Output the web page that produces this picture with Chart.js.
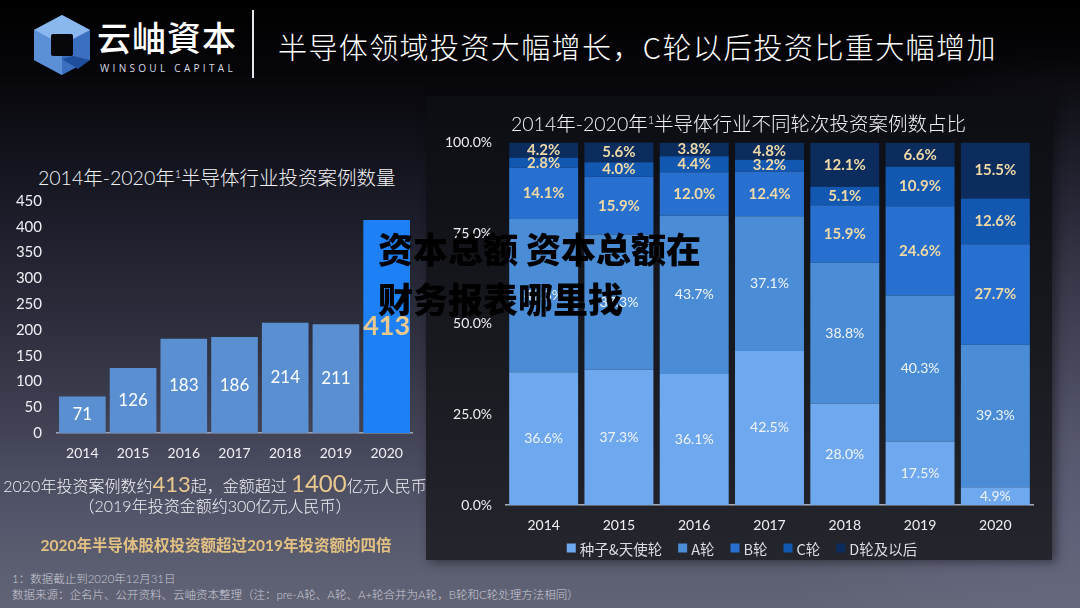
<!DOCTYPE html>
<html lang="zh-CN">
<head>
<meta charset="utf-8">
<script src="https://cdn.jsdelivr.net/npm/chart.js@4.4.1/dist/chart.umd.min.js"></script>
<style>
    html, body { margin: 0; padding: 0; }
    body {
        width: 1080px; height: 608px; overflow: hidden; position: relative;
        background:
            radial-gradient(ellipse 300px 420px at 100% 75%, rgba(120, 120, 150, 0.35), rgba(0, 0, 0, 0)),
            linear-gradient(180deg, #000 0%, #06060a 12%, #1a1b27 34%, #343545 60%, #53556a 85%, #626476 100%);
        font-family: "Lato", "Noto Sans CJK SC", sans-serif;
        color: #fff;
    }
    .abs { position: absolute; white-space: nowrap; }
    .brand { left: 97px; top: 12px; font-size: 34px; font-weight: 500; letter-spacing: 1px; }
    .brand-en { left: 100px; top: 61px; font-size: 10px; letter-spacing: 3.3px; color: #d8dae4; font-family: "Open Sans", sans-serif; }
    .sep { left: 252px; top: 10px; width: 2px; height: 68px; background: #e6e6ec; }
    .headline { left: 278px; top: 25px; font-size: 29px; font-weight: 300; letter-spacing: 1.4px; font-family: "Noto Sans CJK SC", sans-serif; }
    .chart-title { font-size: 19.5px; font-weight: 300; color: #f2f2f6; }
    .panel {
        left: 426px; top: 96px; width: 626px; height: 464px;
        background: linear-gradient(180deg, #0c0d12 0%, #16171d 45%, #25262d 100%);
        box-shadow: 4px 2px 10px rgba(0, 0, 0, 0.45);
    }
    .note { left: 0; width: 430px; text-align: center; font-size: 16px; color: #f0f0f4; font-weight: 300; }
    .gold { color: #e9c98e; font-weight: 400; }
    .note-gold { left: 0; width: 432px; top: 533px; text-align: center; font-size: 15.5px; font-weight: 700; color: #e3c182; }
    .foot { left: 12px; font-size: 11.5px; color: #c9cad4; font-weight: 300; }
    .overlay { left: 378px; font-size: 35px; font-weight: 900; color: #000; font-family: "Noto Sans CJK SC", sans-serif; z-index: 5; }
</style>
</head>
<body>

<svg class="abs" style="left:32px; top:14px" width="60" height="64" viewBox="0 0 60 64">
    <polygon points="30,1 58,16 58,46 30,61 2,46 2,16" fill="#3b6fbf"/>
    <polygon points="30,1 58,16 30,31 2,16" fill="#8ab8ee"/>
    <polygon points="2,16 30,31 30,61 2,46" fill="#5b8fd6"/>
    <rect x="19" y="20" width="22" height="22" rx="2" fill="#07070b"/>
    <polygon points="41,42 58,46 46,55 30,45" fill="#1f4f9c"/>
</svg>
<div class="abs brand">云岫資本</div>
<div class="abs brand-en">WINSOUL CAPITAL</div>
<div class="abs sep"></div>
<div class="abs headline">半导体领域投资大幅增长，C轮以后投资比重大幅增加</div>

<div class="abs chart-title" style="left:38px; top:162px;">2014年-2020年<sup style="font-size:11px">1</sup>半导体行业投资案例数量</div>
<div class="abs" style="left:0; top:177px; width:425px; height:293px;"><canvas id="countChart"></canvas></div>

<div class="abs note" style="top:468px;">2020年投资案例数约<span class="gold" style="font-size:22px">413</span>起，金额超过 <span class="gold" style="font-size:24px">1400</span>亿元人民币</div>
<div class="abs note" style="top:493px;">（2019年投资金额约300亿元人民币）</div>
<div class="abs note-gold">2020年半导体股权投资额超过2019年投资额的四倍</div>
<div class="abs foot" style="top:570px;">1：数据截止到2020年12月31日</div>
<div class="abs foot" style="top:586px;">数据来源：企名片、公开资料、云岫资本整理（注：pre-A轮、A轮、A+轮合并为A轮，B轮和C轮处理方法相同）</div>

<div class="abs panel"></div>
<div class="abs chart-title" style="left:511px; top:108px;">2014年-2020年<sup style="font-size:11px">1</sup>半导体行业不同轮次投资案例数占比</div>
<div class="abs" style="left:430px; top:120px; width:618px; height:440px;"><canvas id="roundChart"></canvas></div>

<div class="abs overlay" style="top:222px;">资本总额 资本总额在</div>
<div class="abs overlay" style="top:272px;">财务报表哪里找</div>

<script>
const years = ["2014", "2015", "2016", "2017", "2018", "2019", "2020"];
const caseCounts = [71, 126, 183, 186, 214, 211, 413];

const roundNames = ["种子&天使轮", "A轮", "B轮", "C轮", "D轮及以后"];
const seedShare = [36.6, 37.3, 36.1, 42.5, 28.0, 17.5, 4.9];
const aShare = [42.3, 37.3, 43.7, 37.1, 38.8, 40.3, 39.3];
const bShare = [14.1, 15.9, 12.0, 12.4, 15.9, 24.6, 27.7];
const cShare = [2.8, 4.0, 4.4, 3.2, 5.1, 10.9, 12.6];
const dShare = [4.2, 5.6, 3.8, 4.8, 12.1, 6.6, 15.5];

const roundColors = ["#6ea8ee", "#4a8dd6", "#2770d0", "#1257b0", "#0b2c5c"];

// writes the value in the middle of each bar segment
const barLabels = {
    id: "barLabels",
    afterDatasetsDraw(chart, args, opts) {
        const ctx = chart.ctx;
        chart.data.datasets.forEach((ds, i) => {
            const meta = chart.getDatasetMeta(i);
            meta.data.forEach((bar, j) => {
                const st = opts.style(i, j);
                const p = bar.getProps(["x", "y", "base"], true);
                ctx.save();
                ctx.font = st.font;
                ctx.fillStyle = st.color;
                ctx.textAlign = "center";
                ctx.textBaseline = "middle";
                ctx.fillText(opts.format(ds.data[j]), p.x, (p.y + p.base) / 2);
                ctx.restore();
            });
        });
    },
};

// simple legend row, squares + names, centred under the plot
const rowLegend = {
    id: "rowLegend",
    afterDraw(chart, args, opts) {
        const ctx = chart.ctx;
        ctx.save();
        ctx.font = opts.font;
        ctx.textBaseline = "middle";
        const items = chart.data.datasets.map((ds) => ({
            text: ds.label, color: ds.backgroundColor, w: ctx.measureText(ds.label).width,
        }));
        const total = items.reduce((s, it) => s + opts.box + 4 + it.w, 0) + opts.gap * (items.length - 1);
        let x = opts.cx - total / 2;
        items.forEach((it) => {
            ctx.fillStyle = it.color;
            ctx.fillRect(x, opts.y - opts.box / 2, opts.box, opts.box);
            x += opts.box + 4;
            ctx.fillStyle = opts.color;
            ctx.fillText(it.text, x, opts.y + 1);
            x += it.w + opts.gap;
        });
        ctx.restore();
    },
};

Chart.defaults.font.family = '"Lato", "Noto Sans CJK SC", sans-serif';
Chart.defaults.animation = false;

function renderCountChart() {
    const ctx = document.getElementById("countChart").getContext("2d");
    new Chart(ctx, {
        type: "bar",
        data: {
            labels: years,
            datasets: [{
                data: caseCounts,
                backgroundColor: years.map((y) => (y === "2020" ? "#1e80f5" : "#5a8fd2")),
                categoryPercentage: 1,
                barPercentage: 0.92,
            }],
        },
        options: {
            responsive: true,
            maintainAspectRatio: false,
            layout: { padding: { top: 0, right: 13, left: 0, bottom: 0 } },
            plugins: {
                legend: { display: false },
                tooltip: { enabled: false },
                barLabels: {
                    format: (v) => String(v),
                    style: (i, j) => (j === 6
                        ? { font: "bold 27px Lato, sans-serif", color: "#e9c98e" }
                        : { font: "17px Lato, sans-serif", color: "#ffffff" }),
                },
            },
            scales: {
                x: {
                    grid: { display: false, drawTicks: false },
                    border: { display: true, color: "#9ea3b4", width: 1.5 },
                    ticks: { color: "#eeeef3", font: { size: 14 }, padding: 12 },
                    afterFit: (s) => { s.height = 37; },
                },
                y: {
                    min: 0,
                    max: 450,
                    grid: { display: false, drawTicks: false },
                    border: { display: false },
                    ticks: { stepSize: 50, color: "#eeeef3", font: { size: 15 }, padding: 15 },
                    afterFit: (s) => { s.width = 57; },
                },
            },
        },
        plugins: [barLabels],
    });
}

function renderRoundChart() {
    const ctx = document.getElementById("roundChart").getContext("2d");
    const shares = [seedShare, aShare, bShare, cShare, dShare];
    new Chart(ctx, {
        type: "bar",
        data: {
            labels: years,
            datasets: roundNames.map((name, i) => ({
                label: name,
                data: shares[i],
                backgroundColor: roundColors[i],
                categoryPercentage: 1,
                barPercentage: 0.916,
            })),
        },
        options: {
            responsive: true,
            maintainAspectRatio: false,
            layout: { padding: { top: 0, right: 15, left: 0, bottom: 0 } },
            plugins: {
                legend: { display: false },
                tooltip: { enabled: false },
                barLabels: {
                    format: (v) => v.toFixed(1) + "%",
                    style: (i) => (i < 2
                        ? { font: "14px Lato, sans-serif", color: "#f2f4fa" }
                        : { font: "bold 15px Lato, sans-serif", color: "#efd9a6" }),
                },
                rowLegend: { cx: 312, y: 428, box: 9, gap: 16, font: '14.5px "Noto Sans CJK SC", sans-serif', color: "#dcdce4" },
            },
            scales: {
                x: {
                    stacked: true,
                    grid: { display: false, drawTicks: false },
                    border: { display: true, color: "#a9abb6", width: 1.5 },
                    ticks: { color: "#eeeef3", font: { size: 14 }, padding: 12 },
                    afterFit: (s) => { s.height = 55; },
                },
                y: {
                    stacked: true,
                    min: 0,
                    max: 100,
                    grid: { display: false, drawTicks: false },
                    border: { display: false },
                    ticks: {
                        stepSize: 25,
                        color: "#eeeef3",
                        font: { size: 14 },
                        padding: 14,
                        callback: (v) => v.toFixed(1) + "%",
                    },
                    afterFit: (s) => { s.width = 76; },
                },
            },
        },
        plugins: [barLabels, rowLegend],
    });
}

renderCountChart();
renderRoundChart();
</script>
</body>
</html>
